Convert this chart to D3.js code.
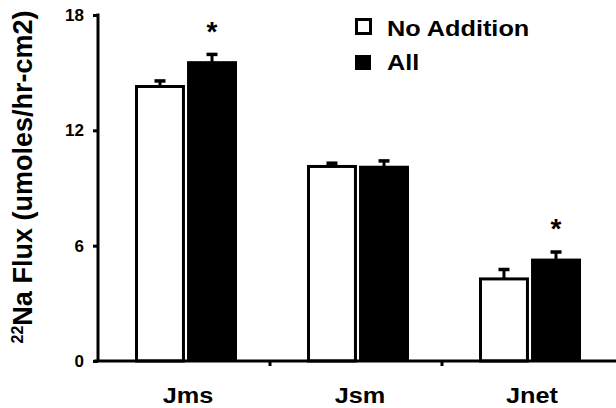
<!DOCTYPE html>
<html>
<head>
<meta charset="utf-8">
<script src="https://cdn.jsdelivr.net/npm/d3@7"></script>
<style>
  body { margin: 0; background: #fff; }
  text { font-family: "Liberation Sans", Arial, Helvetica, sans-serif; font-weight: bold; fill: #000; }
</style>
</head>
<body>
<div id="chart"></div>
<script>
const width = 616, height = 408;

// data
const categories = ["Jms", "Jsm", "Jnet"];
const groups = ["No Addition", "All"];
const noAddition = [14.28, 10.12, 4.27];
const noAdditionErr = [0.29, 0.17, 0.49];
const allValues = [15.52, 10.08, 5.25];
const allErr = [0.43, 0.33, 0.42];
const significant = [true, false, true];
const yTicks = [0, 6, 12, 18];

const svg = d3.select("#chart").append("svg")
    .attr("width", width)
    .attr("height", height);

const axisX = 98, baseY = 361, topY = 15;
const stretch = "scale(1.15,1)"; // text in the figure is slightly widened

const x0 = d3.scaleBand()
    .domain(categories)
    .range([axisX, 614]);

const x1 = d3.scaleBand()
    .domain(groups)
    .range([37, 139])
    .paddingInner(0.04);

const y = d3.scaleLinear()
    .domain([0, 18])
    .range([baseY, topY]);

const rows = [];
categories.forEach((c, i) => {
    rows.push({cat: c, group: groups[0], value: noAddition[i], err: noAdditionErr[i], sig: false});
    rows.push({cat: c, group: groups[1], value: allValues[i], err: allErr[i], sig: significant[i]});
});

// bars
const bar = svg.append("g").selectAll("g")
    .data(rows)
    .enter().append("g")
    .attr("transform", d => `translate(${x0(d.cat) + x1(d.group)},0)`);

bar.append("rect")
    .attr("x", d => d.group === "All" ? 0 : 1.5)
    .attr("y", d => d.group === "All" ? y(d.value) - 1.5 : y(d.value))
    .attr("width", d => d.group === "All" ? x1.bandwidth() : x1.bandwidth() - 3)
    .attr("height", d => d.group === "All" ? baseY - y(d.value) + 1.5 : baseY - y(d.value))
    .attr("fill", d => d.group === "All" ? "#000" : "#fff")
    .attr("stroke", d => d.group === "All" ? "none" : "#000")
    .attr("stroke-width", 3);

// error bars (upper only)
bar.append("line")
    .attr("x1", x1.bandwidth() / 2)
    .attr("x2", x1.bandwidth() / 2)
    .attr("y1", d => y(d.value))
    .attr("y2", d => y(d.value + d.err))
    .attr("stroke", "#000")
    .attr("stroke-width", 3);

bar.append("line")
    .attr("x1", x1.bandwidth() / 2 - 5.5)
    .attr("x2", x1.bandwidth() / 2 + 5.5)
    .attr("y1", d => y(d.value + d.err))
    .attr("y2", d => y(d.value + d.err))
    .attr("stroke", "#000")
    .attr("stroke-width", 3.5);

bar.filter(d => d.sig).append("text")
    .attr("transform", d => `translate(${x1.bandwidth() / 2},${y(d.value + d.err) - 8})`)
    .attr("text-anchor", "middle")
    .attr("dy", "0.55em")
    .attr("y", -21)
    .style("font-size", "28px")
    .text("*");

// y axis
const yAxis = svg.append("g")
    .attr("transform", `translate(${axisX},0)`)
    .call(d3.axisLeft(y).tickValues(yTicks).tickSize(5).tickPadding(9).tickSizeOuter(0));
yAxis.select(".domain").attr("stroke-width", 3).attr("d", `M0,${topY - 1.5}V${baseY}`);
yAxis.selectAll(".tick line").attr("stroke-width", 3);
yAxis.selectAll(".tick text")
    .style("font-size", "17px")
    .style("font-family", '"Liberation Sans", Arial, sans-serif')
    .style("font-weight", "bold");

// x axis
const xAxis = svg.append("g")
    .attr("transform", `translate(0,${baseY})`)
    .call(d3.axisBottom(x0).tickSize(0).tickPadding(26).tickSizeOuter(0));
xAxis.select(".domain").attr("stroke-width", 3).attr("d", `M${axisX - 4},0H616`);
xAxis.selectAll(".tick text")
    .attr("transform", `translate(4,0) ${stretch}`)
    .style("font-size", "22px")
    .style("font-family", '"Liberation Sans", Arial, sans-serif')
    .style("font-weight", "bold");

// x ticks on band boundaries
svg.append("g").selectAll("line")
    .data(categories.slice(1))
    .enter().append("line")
    .attr("x1", d => x0(d))
    .attr("x2", d => x0(d))
    .attr("y1", baseY)
    .attr("y2", baseY + 5)
    .attr("stroke", "#000")
    .attr("stroke-width", 3);

// y label
const yLabel = svg.append("text")
    .attr("transform", `translate(32,177) rotate(-90)`)
    .attr("text-anchor", "middle")
    .style("font-size", "27px");
yLabel.append("tspan").style("font-size", "16px").attr("dy", "-9").text("22");
yLabel.append("tspan").attr("dy", "9").text("Na Flux (umoles/hr-cm2)");

// legend
const legend = svg.append("g").attr("transform", "translate(355,18)");
legend.append("rect")
    .attr("x", 1.5).attr("y", 1.5)
    .attr("width", 14).attr("height", 14)
    .attr("fill", "#fff").attr("stroke", "#000").attr("stroke-width", 3);
legend.append("rect")
    .attr("x", 0).attr("y", 37)
    .attr("width", 16).attr("height", 15)
    .attr("fill", "#000");
legend.selectAll("text.leg")
    .data(groups)
    .enter().append("text")
    .attr("class", "leg")
    .attr("transform", (d, i) => `translate(32,${18 + i * 34}) ${stretch}`)
    .style("font-size", "22px")
    .text(d => d);
</script>
</body>
</html>
